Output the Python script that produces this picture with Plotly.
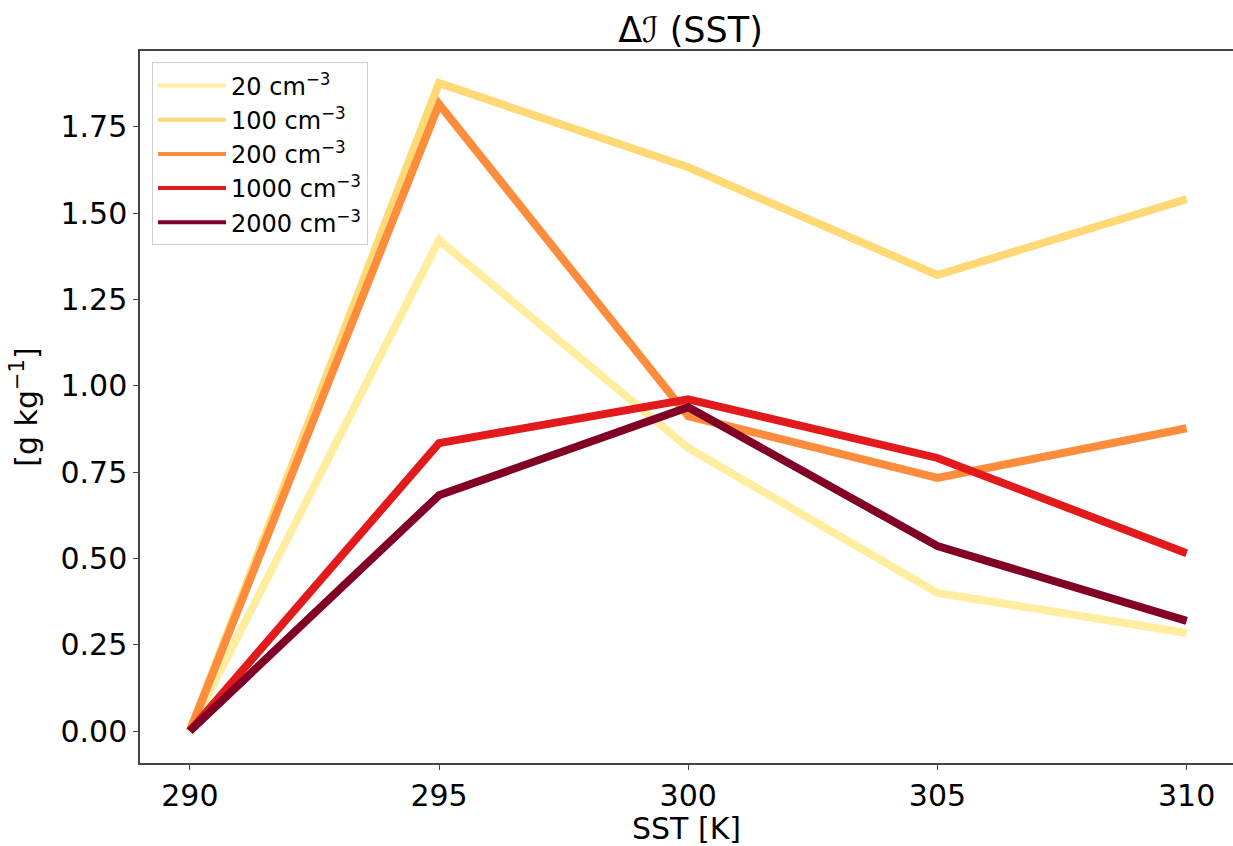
import plotly.graph_objects as go

# SST values (K)
sst = [290, 295, 300, 305, 310]

# Delta I per droplet concentration (g/kg)
labels = ["20 cm<sup>−3</sup>", "100 cm<sup>−3</sup>", "200 cm<sup>−3</sup>",
          "1000 cm<sup>−3</sup>", "2000 cm<sup>−3</sup>"]
d_20 = [0.0, 1.422, 0.82, 0.40, 0.284]
d_100 = [0.0, 1.877, 1.633, 1.321, 1.541]
d_200 = [0.0, 1.816, 0.912, 0.733, 0.877]
d_1000 = [0.0, 0.834, 0.961, 0.791, 0.515]
d_2000 = [0.0, 0.683, 0.938, 0.536, 0.319]
series = [d_20, d_100, d_200, d_1000, d_2000]

colors = ["#ffeda0", "#fed976", "#fd8d3c", "#e31a1c", "#800026"]

y_ticks = [0.0, 0.25, 0.5, 0.75, 1.0, 1.25, 1.5, 1.75]
x_ticks = [290, 295, 300, 305, 310]

fig = go.Figure()

for lab, vals, col in zip(labels, series, colors):
    fig.add_trace(go.Scatter(x=sst, y=vals, mode="lines", name=lab,
                             line=dict(color=col, width=8), showlegend=False))

# thinner lines for legend entries
for lab, col in zip(labels, colors):
    fig.add_trace(go.Scatter(x=[None], y=[None], mode="lines", name=lab,
                             line=dict(color=col, width=4), showlegend=True))

font_family = "DejaVu Sans"

fig.update_layout(
    width=1233, height=846,
    margin=dict(l=140, r=0, t=51, b=83),
    paper_bgcolor="white", plot_bgcolor="white",
    font=dict(family=font_family, color="black", size=30),
    title=dict(text="Δℐ (SST)", x=0.56, xanchor="center",
               y=1 - 30 / 846, yanchor="middle", yref="container",
               font=dict(size=35, family=font_family)),
    legend=dict(x=0.011, y=0.984, xanchor="left", yanchor="top",
                bgcolor="white", bordercolor="#d0d0d0", borderwidth=1,
                font=dict(size=24, family=font_family), itemwidth=68,
                tracegroupgap=0),
    xaxis=dict(range=[289, 310.93], tickvals=x_ticks,
               ticks="outside", ticklen=5, tickcolor="#444", tickwidth=1,
               showline=True, linecolor="#444", linewidth=1.5, mirror=True,
               showgrid=False, zeroline=False,
               tickfont=dict(size=30),
               title=dict(text="SST [K]", font=dict(size=30), standoff=4)),
    yaxis=dict(range=[-0.0927, 1.970], tickvals=y_ticks, tickformat=".2f",
               ticks="outside", ticklen=5, tickcolor="#444", tickwidth=1,
               showline=True, linecolor="#444", linewidth=1.5, mirror=False,
               showgrid=False, zeroline=False,
               tickfont=dict(size=30),
               title=dict(text="[g kg<sup>−1</sup>]", font=dict(size=30), standoff=14)),
)

fig.write_html("out.html")
